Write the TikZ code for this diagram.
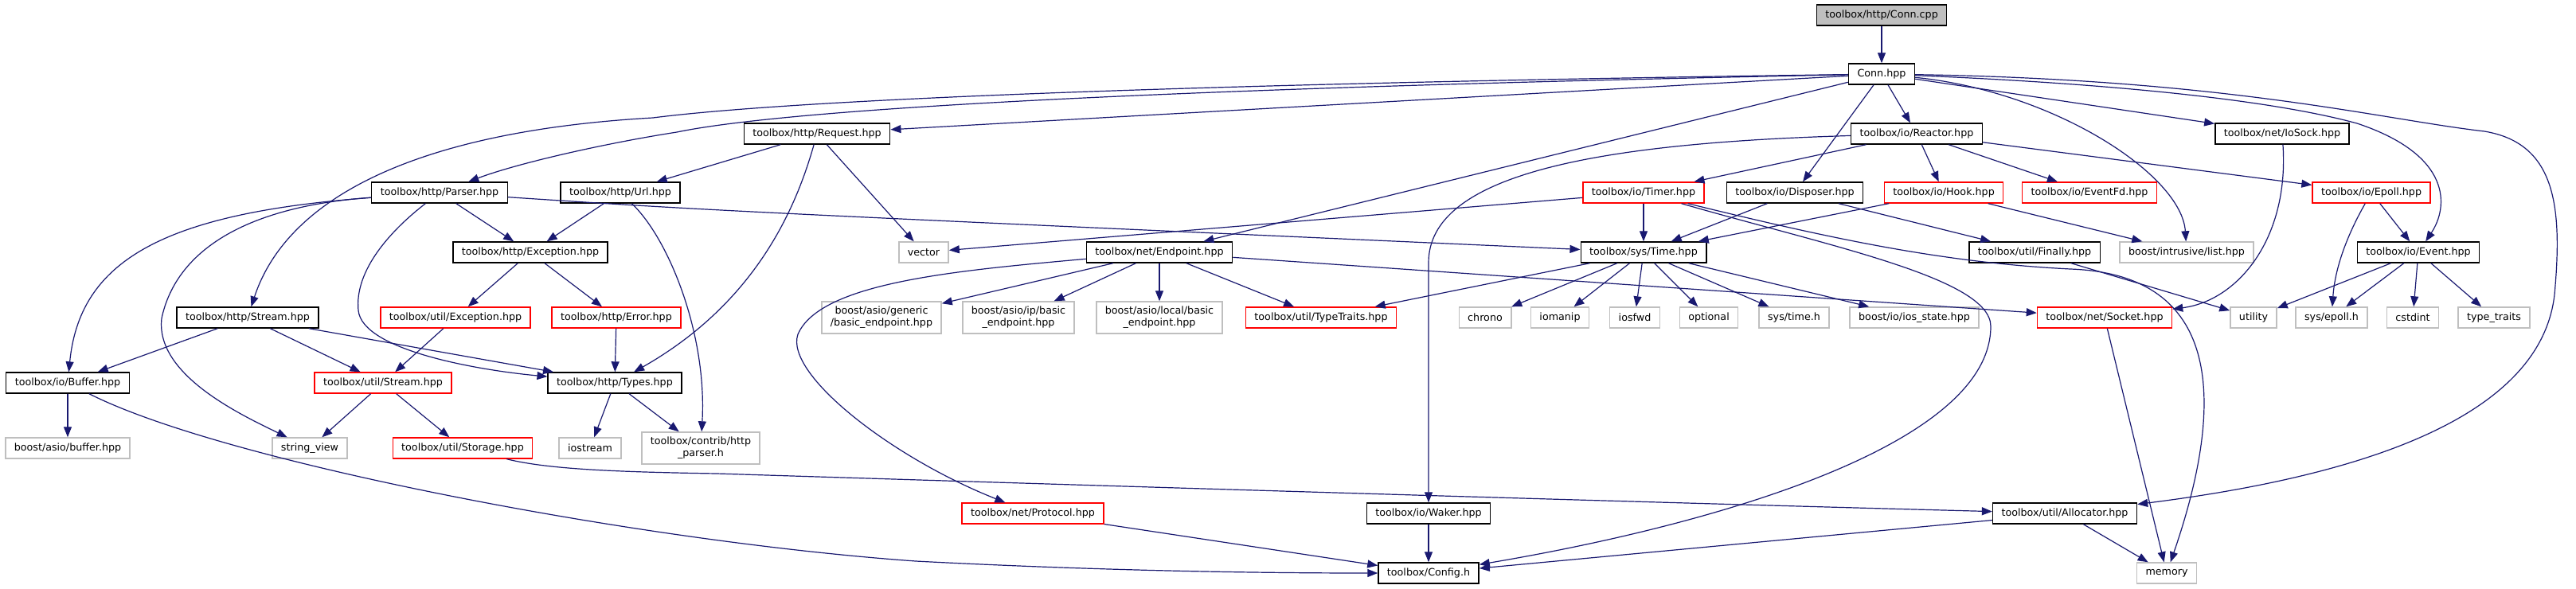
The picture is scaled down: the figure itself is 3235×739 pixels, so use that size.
\documentclass[tikz,border=0pt]{standalone}
\usepackage{fontspec}
\setmainfont{DejaVu Sans}
\usepackage{tikz}
\usetikzlibrary{arrows.meta}
\definecolor{edgeblue}{HTML}{191970}
\definecolor{grey75}{HTML}{BFBFBF}
\tikzset{
  file/.style={draw=black, line width=1.4pt, fill=white, minimum height=26pt, inner xsep=11pt, inner ysep=2pt, align=center, font=\fontsize{12.7}{15}\selectfont},
  rootfile/.style={file, fill=grey75},
  truncfile/.style={file, draw=red},
  extfile/.style={file, draw=grey75},
  twoline/.style={minimum height=40pt},
  dep/.style={draw=edgeblue, line width=1.2pt, -{Triangle[length=13pt,width=10pt]}}
}
\begin{document}
\begin{tikzpicture}[x=1pt, y=-1pt]
\useasboundingbox (0,0) rectangle (3235,739);
\node[rootfile] (conncpp) at (2363,19) {toolbox/http/Conn.cpp};
\node[file] (connhpp) at (2363,93) {Conn.hpp};
\node[file] (request) at (1026,168) {toolbox/http/Request.hpp};
\node[file] (reactor) at (2407,168) {toolbox/io/Reactor.hpp};
\node[file] (iosock) at (2866,168) {toolbox/net/IoSock.hpp};
\node[file] (parser) at (552,242) {toolbox/http/Parser.hpp};
\node[file] (url) at (779,242) {toolbox/http/Url.hpp};
\node[truncfile] (timer) at (2064,242) {toolbox/io/Timer.hpp};
\node[file] (disposer) at (2254,242) {toolbox/io/Disposer.hpp};
\node[truncfile] (hook) at (2441,242) {toolbox/io/Hook.hpp};
\node[truncfile] (eventfd) at (2624,242) {toolbox/io/EventFd.hpp};
\node[truncfile] (epoll) at (2978,242) {toolbox/io/Epoll.hpp};
\node[file] (httpexc) at (666,317) {toolbox/http/Exception.hpp};
\node[extfile] (vector) at (1160,317) {vector};
\node[file] (endpoint) at (1456,317) {toolbox/net/Endpoint.hpp};
\node[file] (systime) at (2064,317) {toolbox/sys/Time.hpp};
\node[file] (finally) at (2555,317) {toolbox/util/Finally.hpp};
\node[extfile] (intrlist) at (2746,317) {boost/intrusive/list.hpp};
\node[file] (event) at (3037,317) {toolbox/io/Event.hpp};
\node[file] (httpstream) at (311,399) {toolbox/http/Stream.hpp};
\node[truncfile] (utilexc) at (572,399) {toolbox/util/Exception.hpp};
\node[truncfile] (httperr) at (774,399) {toolbox/http/Error.hpp};
\node[extfile, twoline] (genericep) at (1107,399) {boost/asio/generic\\/basic\_endpoint.hpp};
\node[extfile, twoline] (ipep) at (1279,399) {boost/asio/ip/basic\\\_endpoint.hpp};
\node[extfile, twoline] (localep) at (1456,399) {boost/asio/local/basic\\\_endpoint.hpp};
\node[truncfile] (typetraits) at (1659,399) {toolbox/util/TypeTraits.hpp};
\node[extfile] (chrono) at (1865,399) {chrono};
\node[extfile] (iomanip) at (1959,399) {iomanip};
\node[extfile] (iosfwd) at (2053,399) {iosfwd};
\node[extfile] (optional) at (2146,399) {optional};
\node[extfile] (systimeh) at (2253,399) {sys/time.h};
\node[extfile] (iosstate) at (2404,399) {boost/io/ios\_state.hpp};
\node[truncfile] (socket) at (2643,399) {toolbox/net/Socket.hpp};
\node[extfile] (utility) at (2830,399) {utility};
\node[extfile] (epollh) at (2928,399) {sys/epoll.h};
\node[extfile] (cstdint) at (3030,399) {cstdint};
\node[extfile] (typetr) at (3132,399) {type\_traits};
\node[file] (buffer) at (85,481) {toolbox/io/Buffer.hpp};
\node[truncfile] (utilstream) at (481,481) {toolbox/util/Stream.hpp};
\node[file] (types) at (772,481) {toolbox/http/Types.hpp};
\node[extfile] (asiobuf) at (85,563) {boost/asio/buffer.hpp};
\node[extfile] (stringview) at (389,563) {string\_view};
\node[truncfile] (storage) at (581,563) {toolbox/util/Storage.hpp};
\node[extfile] (iostream) at (741,563) {iostream};
\node[extfile, twoline] (httpparser) at (880,563) {toolbox/contrib/http\\\_parser.h};
\node[truncfile] (protocol) at (1297,645) {toolbox/net/Protocol.hpp};
\node[file] (waker) at (1794,645) {toolbox/io/Waker.hpp};
\node[file] (allocator) at (2593,645) {toolbox/util/Allocator.hpp};
\node[file] (config) at (1794,720) {toolbox/Config.h};
\node[extfile] (memory) at (2721,720) {memory};

\draw[dep] (conncpp) -- (connhpp);
\draw[dep] (connhpp) -- (request);
\draw[dep] (connhpp) .. controls (1500,110) and (1000,135) .. (850,166) .. controls (760,180) and (650,205) .. (parser);
\draw[dep] (connhpp) .. controls (1500,105) and (1000,125) .. (820,148) .. controls (520,165) and (360,250) .. (httpstream);
\draw[dep] (connhpp) -- (endpoint);
\draw[dep] (connhpp) -- (reactor);
\draw[dep] (connhpp) -- (disposer);
\draw[dep] (connhpp) .. controls (2580,115) and (2740,220) .. (intrlist);
\draw[dep] (connhpp) -- (iosock);
\draw[dep] (connhpp) .. controls (2650,105) and (2850,125) .. (2960,155) .. controls (3080,195) and (3075,260) .. (event);
\draw[dep] (connhpp) .. controls (2800,100) and (2990,150) .. (3120,165) .. controls (3210,180) and (3218,260) .. (3208,370) .. controls (3190,530) and (2950,600) .. (allocator);
\draw[dep] (request) -- (url);
\draw[dep] (request) -- (vector);
\draw[dep] (request) .. controls (1000,260) and (950,380) .. (types);
\draw[dep] (url) -- (httpexc);
\draw[dep] (url) .. controls (840,300) and (888,420) .. (httpparser);
\draw[dep] (parser) -- (httpexc);
\draw[dep] (parser) .. controls (900,265) .. (systime);
\draw[dep] (parser) .. controls (200,268) and (100,330) .. (buffer);
\draw[dep] (parser) .. controls (300,260) and (220,320) .. (203,400) .. controls (195,470) and (300,520) .. (stringview);
\draw[dep] (parser) .. controls (490,290) and (445,340) .. (450,390) .. controls (455,440) and (600,465) .. (types);
\draw[dep] (httpexc) -- (utilexc);
\draw[dep] (httpexc) -- (httperr);
\draw[dep] (httpstream) -- (buffer);
\draw[dep] (httpstream) -- (utilstream);
\draw[dep] (httpstream) -- (types);
\draw[dep] (utilexc) -- (utilstream);
\draw[dep] (httperr) -- (types);
\draw[dep] (buffer) -- (asiobuf);
\draw[dep] (buffer) .. controls (280,580) and (800,680) .. (1150,705) .. controls (1400,718) and (1600,720) .. (config);
\draw[dep] (utilstream) -- (stringview);
\draw[dep] (utilstream) -- (storage);
\draw[dep] (types) -- (iostream);
\draw[dep] (types) -- (httpparser);
\draw[dep] (storage) .. controls (690,590) and (780,593) .. (900,595) .. controls (1500,614) and (2100,632) .. (allocator);
\draw[dep] (endpoint) .. controls (1200,340) and (1030,355) .. (1002,420) .. controls (985,470) and (1120,575) .. (protocol);
\draw[dep] (endpoint) -- (genericep);
\draw[dep] (endpoint) -- (ipep);
\draw[dep] (endpoint) -- (localep);
\draw[dep] (endpoint) -- (typetraits);
\draw[dep] (endpoint) -- (socket);
\draw[dep] (systime) -- (typetraits);
\draw[dep] (systime) -- (chrono);
\draw[dep] (systime) -- (iomanip);
\draw[dep] (systime) -- (iosfwd);
\draw[dep] (systime) -- (optional);
\draw[dep] (systime) -- (systimeh);
\draw[dep] (systime) -- (iosstate);
\draw[dep] (timer) -- (systime);
\draw[dep] (timer) -- (vector);
\draw[dep] (timer) .. controls (2300,300) and (2440,330) .. (2600,338) .. controls (2800,345) and (2790,520) .. (memory);
\draw[dep] (timer) .. controls (2300,310) and (2500,350) .. (2500,410) .. controls (2500,560) and (2150,660) .. (config);
\draw[dep] (disposer) -- (systime);
\draw[dep] (disposer) -- (finally);
\draw[dep] (hook) -- (systime);
\draw[dep] (hook) -- (intrlist);
\draw[dep] (reactor) -- (timer);
\draw[dep] (reactor) -- (hook);
\draw[dep] (reactor) -- (eventfd);
\draw[dep] (reactor) -- (epoll);
\draw[dep] (reactor) .. controls (2000,180) and (1794,220) .. (1794,330) -- (waker);
\draw[dep] (iosock) .. controls (2875,300) and (2810,378) .. (socket);
\draw[dep] (epoll) -- (event);
\draw[dep] (epoll) .. controls (2945,300) and (2932,340) .. (epollh);
\draw[dep] (event) -- (utility);
\draw[dep] (event) -- (epollh);
\draw[dep] (event) -- (cstdint);
\draw[dep] (event) -- (typetr);
\draw[dep] (finally) -- (utility);
\draw[dep] (socket) -- (memory);
\draw[dep] (allocator) -- (memory);
\draw[dep] (allocator) -- (config);
\draw[dep] (protocol) -- (config);
\draw[dep] (waker) -- (config);
\end{tikzpicture}
\end{document}
